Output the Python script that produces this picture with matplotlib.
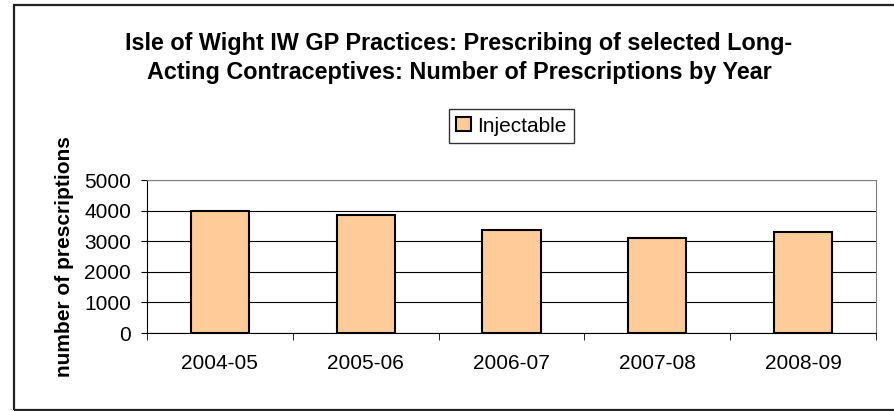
import matplotlib.pyplot as plt
from matplotlib.patches import Rectangle

years = ['2004-05', '2005-06', '2006-07', '2007-08', '2008-09']
injectable = [3980, 3850, 3350, 3110, 3290]

plt.rcParams['font.family'] = ['Liberation Sans', 'DejaVu Sans']

W, H = 895, 411
fig = plt.figure(figsize=(W / 100, H / 100), dpi=100)

# outer chart border (right side runs off the image)
fig.patches.append(Rectangle((14 / W, 1 - 410 / H), 900 / W, 405 / H,
                             transform=fig.transFigure, fill=False,
                             edgecolor='#222222', linewidth=1.6))

left, right, top, bottom = 147, 876, 180, 333
ax = fig.add_axes([left / W, 1 - bottom / H, (right - left) / W, (bottom - top) / H])

x = range(len(years))
ax.bar(x, injectable, width=0.4, color='#FFCC99', edgecolor='black',
       linewidth=1.5, label='Injectable', zorder=3)

ax.set_xlim(-0.5, len(years) - 0.5)
ax.set_ylim(0, 5000)
ax.set_yticks(range(0, 5001, 1000))
ax.yaxis.grid(True, color='black', linewidth=0.8)
ax.set_axisbelow(True)

ax.set_xticks(x)
ax.set_xticklabels(years, fontsize=15)
ax.tick_params(axis='x', length=0, pad=15)
ax.set_xticks([i - 0.5 for i in range(len(years) + 1)], minor=True)
ax.tick_params(axis='x', which='minor', length=5, direction='out', color='black')
ax.tick_params(axis='y', labelsize=15, length=4.5, direction='out', pad=7)

ax.spines['top'].set_color('#808080')
ax.spines['right'].set_color('#808080')
ax.spines['left'].set_color('black')
ax.spines['bottom'].set_color('black')

ax.set_ylabel('number of prescriptions', fontsize=15, fontweight='bold')
ax.yaxis.set_label_coords((74 - left) / (right - left), 0.5)

fig.text(459 / W, 1 - 58 / H,
         'Isle of Wight IW GP Practices: Prescribing of selected Long-\n'
         'Acting Contraceptives: Number of Prescriptions by Year',
         ha='center', va='center', fontsize=16.8, fontweight='bold',
         linespacing=1.3)

leg = ax.legend(loc='center', bbox_to_anchor=(0.5, 1 + (180 - 126) / (bottom - top)),
                fontsize=15, frameon=True, fancybox=False, edgecolor='black',
                handlelength=0.7, handleheight=0.7, handletextpad=0.3,
                borderpad=0.35, borderaxespad=0)
leg.get_frame().set_linewidth(1)

fig.savefig('out.png', dpi=100)
